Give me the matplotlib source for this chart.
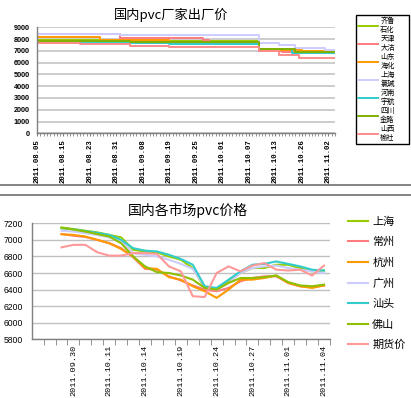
import matplotlib
matplotlib.use('Agg')
import matplotlib.pyplot as plt
from matplotlib.lines import Line2D

# ---- top chart: factory prices (step change points: category index, price) ----
top_dates = ['2011.08.05', '2011.08.15', '2011.08.23', '2011.08.31', '2011.09.08',
             '2011.09.19', '2011.09.25', '2011.10.01', '2011.10.07', '2011.10.13',
             '2011.10.26', '2011.11.02']
top_count = 91

top_names = ['齐鲁\n石化', '天津\n大沽', '山东\n海化', '上海\n氯碱', '河南\n宇航', '四川\n金路', '山西\n榆社']
qilu_idx = [0, 19, 40, 67, 78]
qilu_val = [7950, 7850, 7800, 7100, 6950]
tianjin_idx = [0, 25, 50, 52, 67, 74, 80]
tianjin_val = [8400, 8070, 7920, 7650, 7000, 6900, 6850]
shandong_idx = [0, 19, 40, 67, 80]
shandong_val = [8150, 7920, 7780, 7050, 6950]
shlu_idx = [0, 25, 67, 73, 78, 87]
shlu_val = [8430, 8350, 7650, 7500, 7250, 7100]
henan_idx = [0, 40, 67, 77]
henan_val = [7700, 7600, 7150, 6800]
sichuan_idx = [0, 28, 67, 78]
sichuan_val = [7850, 7750, 7150, 6900]
shanxi_idx = [0, 13, 28, 40, 67, 73, 79]
shanxi_val = [7650, 7550, 7450, 7350, 6950, 6650, 6400]
top_colors = ['#99CC00', '#FF7C80', '#FF9900', '#CCCCFF', '#33CCCC', '#80B000', '#FF8C8C']

# ---- bottom chart: market prices, 09.29 .. 11.04 ----
bottom_dates = ['2011.09.29', '2011.09.30', '2011.10.09', '2011.10.10', '2011.10.11',
                '2011.10.12', '2011.10.13', '2011.10.14', '2011.10.17', '2011.10.18',
                '2011.10.19', '2011.10.20', '2011.10.21', '2011.10.24', '2011.10.25',
                '2011.10.26', '2011.10.27', '2011.10.28', '2011.10.31', '2011.11.01',
                '2011.11.02', '2011.11.03', '2011.11.04']
bottom_names = ['上海', '常州', '杭州', '广州', '汕头', '佛山', '期货价']
shanghai = [7150, 7130, 7110, 7090, 7060, 7030, 6880, 6860, 6850, 6800, 6760, 6660,
            6420, 6410, 6500, 6600, 6660, 6660, 6700, 6700, 6660, 6620, 6630]
changzhou = [7070, 7050, 7035, 7000, 6960, 6900, 6790, 6650, 6640, 6560, 6510, 6450,
             6400, 6380, 6420, 6500, 6540, 6560, 6560, 6480, 6440, 6430, 6450]
hangzhou = [7068, 7060, 7040, 7000, 6960, 6890, 6800, 6660, 6650, 6550, 6520, 6440,
            6380, 6300, 6400, 6520, 6520, 6540, 6570, 6480, 6440, 6420, 6450]
guangzhou = [7110, 7100, 7080, 7060, 7030, 6990, 6840, 6820, 6800, 6760, 6710, 6650,
             6440, 6400, 6480, 6600, 6660, 6680, 6690, 6660, 6640, 6620, 6600]
shantou = [7140, 7128, 7105, 7085, 7060, 7000, 6900, 6870, 6860, 6820, 6770, 6700,
           6440, 6420, 6520, 6620, 6700, 6710, 6740, 6710, 6680, 6640, 6630]
foshan = [7145, 7125, 7100, 7070, 7040, 6960, 6800, 6680, 6610, 6600, 6570, 6520,
          6420, 6400, 6480, 6540, 6540, 6550, 6570, 6490, 6450, 6440, 6460]
qihuo = [6910, 6940, 6940, 6850, 6810, 6810, 6840, 6840, 6830, 6680, 6620, 6320,
         6310, 6600, 6680, 6620, 6690, 6720, 6640, 6630, 6640, 6570, 6690]
bottom_colors = ['#99CC00', '#FF7C80', '#FF9900', '#CCCCFF', '#33CCCC', '#8CC000', '#FF9999']

CJK = ['Noto Sans CJK SC', 'DejaVu Sans']
W, H = 411, 398

fig = plt.figure(figsize=(W / 100, H / 100), dpi=100)
fig.patch.set_facecolor('white')


def fx(px):
    return px / W


def fy(py):
    return 1 - py / H


# ---------------- top chart ----------------
ax1 = fig.add_axes([fx(37), fy(133.3), fx(335) - fx(37), fy(27.3) - fy(133.3)])
top_series = [(qilu_idx, qilu_val), (tianjin_idx, tianjin_val), (shandong_idx, shandong_val),
              (shlu_idx, shlu_val), (henan_idx, henan_val), (sichuan_idx, sichuan_val),
              (shanxi_idx, shanxi_val)]
for (idx, val), name, c in zip(top_series, top_names, top_colors):
    xs = idx + [top_count - 1]
    ys = val + [val[-1]]
    ax1.step(xs, ys, where='post', color=c, lw=1.4, label=name)

ax1.set_xlim(0, top_count - 1)
ax1.set_ylim(0, 9000)
ax1.set_yticks(range(0, 9001, 1000))
ax1.set_yticklabels([str(v) for v in range(0, 9001, 1000)],
                    family='Liberation Sans', fontsize=5.2, fontweight='bold')
ax1.yaxis.grid(True, color='#C0C0C0', lw=1.1)
ax1.set_axisbelow(True)
ax1.tick_params(axis='y', length=0, pad=5)
ax1.set_xticks(range(0, top_count - 1, 8))
ax1.set_xticklabels(top_dates, rotation=90, family='Liberation Mono',
                    fontsize=5.3, fontweight='bold', va='top')
ax1.set_xticks(range(top_count), minor=True)
ax1.tick_params(axis='x', which='both', length=2.5, color='#808080', pad=1.5)
for s in ['top', 'right']:
    ax1.spines[s].set_visible(False)
for s in ['left', 'bottom']:
    ax1.spines[s].set_color('#808080')
    ax1.spines[s].set_linewidth(1.0)
fig.text(fx(171), fy(15), '国内pvc厂家出厂价', ha='center', va='center',
         family=CJK, fontsize=9.5)

leg1 = fig.legend(*ax1.get_legend_handles_labels(), loc='upper left',
                  bbox_to_anchor=(fx(355.7), fy(143), fx(409.3) - fx(355.7), fy(15) - fy(143)),
                  mode='expand', frameon=True, fancybox=False,
                  edgecolor='black', framealpha=1, borderpad=0.3, labelspacing=0.1,
                  handlelength=2.8, handletextpad=0.3, borderaxespad=0,
                  prop={'family': CJK, 'size': 5.2})
leg1.get_frame().set_linewidth(1.0)

# separators between the two chart frames
fig.add_artist(Line2D([0, 1], [fy(185.5), fy(185.5)], color='#707070', lw=1.2))
fig.add_artist(Line2D([0, 1], [fy(195), fy(195)], color='#707070', lw=1.2))

# ---------------- bottom chart ----------------
ax2 = fig.add_axes([fx(31.7), fy(339.3), fx(330) - fx(31.7), fy(223.3) - fy(339.3)])
bottom_series = [shanghai, changzhou, hangzhou, guangzhou, shantou, foshan, qihuo]
pos = list(range(2, 2 + len(bottom_dates)))
for vals, name, c in zip(bottom_series, bottom_names, bottom_colors):
    ax2.plot(pos, vals, color=c, lw=1.5, label=name)

ax2.set_xlim(-0.5, 24.5)
ax2.set_ylim(5800, 7200)
ax2.set_yticks(range(5800, 7201, 200))
ax2.set_yticklabels([str(v) for v in range(5800, 7201, 200)],
                    family='Liberation Sans', fontsize=6.2)
ax2.yaxis.grid(True, color='#C0C0C0', lw=1.0)
ax2.set_axisbelow(True)
ax2.tick_params(axis='y', length=0, pad=6)
ax2.set_xticks(pos[1::3])
ax2.set_xticklabels(bottom_dates[1::3], rotation=90, family='Liberation Mono',
                    fontsize=6.1, va='top')
ax2.set_xticks([k + 0.5 for k in range(25)], minor=True)
ax2.tick_params(axis='x', which='major', length=0, pad=4)
ax2.tick_params(axis='x', which='minor', length=4, color='#808080')
for s in ['top', 'right']:
    ax2.spines[s].set_visible(False)
for s in ['left', 'bottom']:
    ax2.spines[s].set_color('#808080')
    ax2.spines[s].set_linewidth(1.0)
fig.text(fx(187.5), fy(210.7), '国内各市场pvc价格', ha='center', va='center',
         family=CJK, fontsize=10)

fig.legend(*ax2.get_legend_handles_labels(), loc='upper left',
           bbox_to_anchor=(fx(344), fy(212)), frameon=False,
           handlelength=1.8, handletextpad=0.35, labelspacing=0.93, borderaxespad=0,
           prop={'family': CJK, 'size': 8})

fig.savefig('out.png', dpi=100)
